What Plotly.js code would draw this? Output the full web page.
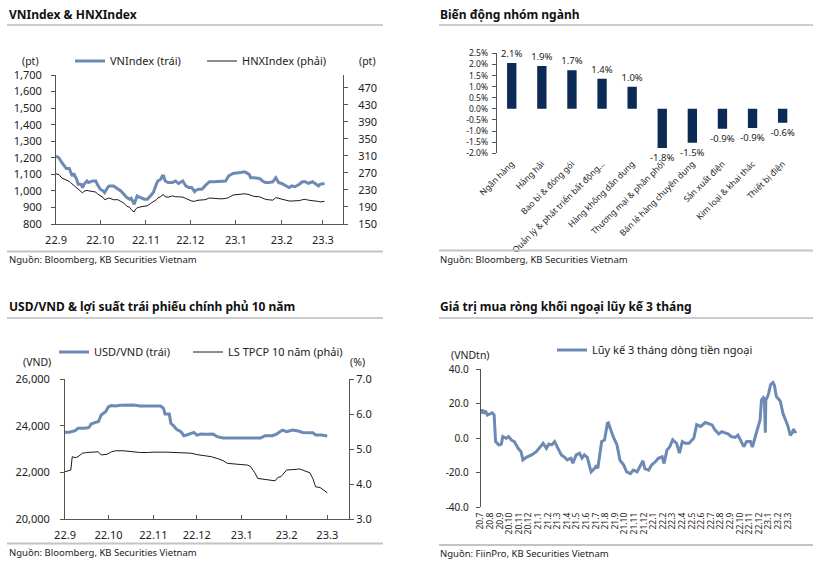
<!DOCTYPE html>
<html><head><meta charset="utf-8">
<script src="https://cdn.plot.ly/plotly-3.0.1.min.js"></script>
<style>html,body{margin:0;padding:0;background:#fff;}#chart{width:815px;height:562px;}</style>
</head><body><div id="chart"></div>
<script>
// ---------- Panel 1: VNIndex & HNXIndex ----------
const idxDates = ['2022-09-01','2022-09-03','2022-09-05','2022-09-08','2022-09-10','2022-09-11','2022-09-12','2022-09-13','2022-09-15','2022-09-16','2022-09-18','2022-09-19','2022-09-20','2022-09-22','2022-09-23','2022-09-26','2022-09-28','2022-09-29','2022-10-01','2022-10-03','2022-10-04','2022-10-06','2022-10-07','2022-10-10','2022-10-13','2022-10-15','2022-10-17','2022-10-19','2022-10-21','2022-10-22','2022-10-24','2022-10-25','2022-10-26','2022-10-28','2022-10-31','2022-11-02','2022-11-04','2022-11-06','2022-11-08','2022-11-09','2022-11-11','2022-11-12','2022-11-13','2022-11-14','2022-11-16','2022-11-19','2022-11-21','2022-11-23','2022-11-26','2022-11-28','2022-11-30','2022-12-02','2022-12-04','2022-12-05','2022-12-07','2022-12-09','2022-12-11','2022-12-14','2022-12-17','2022-12-22','2022-12-25','2022-12-27','2022-12-30','2023-01-03','2023-01-07','2023-01-10','2023-01-11','2023-01-13','2023-01-17','2023-01-19','2023-01-21','2023-01-23','2023-01-26','2023-01-28','2023-01-30','2023-02-01','2023-02-04','2023-02-06','2023-02-08','2023-02-10','2023-02-13','2023-02-15','2023-02-17','2023-02-19','2023-02-22','2023-02-24','2023-02-26','2023-02-27','2023-03-02'];
const vnIndex = [1210,1200,1170,1135,1135,1110,1090,1105,1070,1040,1040,1020,1040,1060,1050,1060,1060,1040,1010,1000,990,1020,1030,1030,1010,1000,980,960,950,955,920,950,970,960,950,950,970,990,1040,1060,1070,1090,1090,1060,1050,1050,1060,1045,1060,1030,1020,1020,995,1005,1010,1010,1030,1055,1055,1060,1060,1090,1105,1110,1115,1100,1080,1080,1075,1060,1050,1050,1055,1080,1050,1045,1030,1020,1030,1025,1040,1055,1055,1045,1055,1040,1030,1040,1045];
const hnxIndex = [268,266,258,254,250,247,244,240,235,232,226,223,227,229,228,227,225,221,216,212,207,210,211,207,207,203,199,192,189,184,178,185,188,190,192,193,198,202,207,211,214,218,219,214,213,216,214,214,213,210,207,204,203,205,206,207,207,211,210,209,210,212,218,219,221,219,217,215,214,211,208,207,206,212,210,208,206,204,204,204,205,207,208,206,205,205,203,202,203];
const monthTickDates = ['2022-09-01','2022-10-01','2022-11-01','2022-12-01','2023-01-01','2023-02-01','2023-03-01'];
const monthTickText = ['22.9','22.10','22.11','22.12','23.1','23.2','23.3'];

// ---------- Panel 2: Biến động nhóm ngành ----------
const sectors = ['Ngân hàng','Hàng hải','Bao bì & đóng gói','Quản lý & phát triển bất động...','Hàng không dân dụng','Thương mại & phân phối','Bán lẻ hàng chuyên dụng','Sản xuất điện','Kim loại & khai thác','Thiết bị điện'];
const sectorChange = [2.06,1.93,1.74,1.36,1.0,-1.76,-1.53,-0.89,-0.86,-0.62];
const sectorTicks = [-2.0,-1.5,-1.0,-0.5,0.0,0.5,1.0,1.5,2.0,2.5];

// ---------- Panel 3: USD/VND & 10Y yield ----------
const usdDates = ['2022-09-01','2022-09-04','2022-09-08','2022-09-10','2022-09-14','2022-09-17','2022-09-18','2022-09-19','2022-09-22','2022-09-24','2022-09-25','2022-09-26','2022-09-29','2022-10-01','2022-10-03','2022-10-06','2022-10-09','2022-10-14','2022-10-18','2022-10-23','2022-10-28','2022-11-01','2022-11-06','2022-11-08','2022-11-09','2022-11-12','2022-11-13','2022-11-15','2022-11-17','2022-11-20','2022-11-22','2022-11-24','2022-11-27','2022-11-29','2022-12-01','2022-12-04','2022-12-08','2022-12-12','2022-12-15','2022-12-19','2022-12-27','2023-01-05','2023-01-14','2023-01-17','2023-01-19','2023-01-22','2023-01-25','2023-01-27','2023-01-29','2023-02-01','2023-02-03','2023-02-05','2023-02-09','2023-02-12','2023-02-16','2023-02-19','2023-02-21','2023-02-25','2023-03-01'];
const usdVnd = [23720,23720,23790,23890,23890,23910,23960,24070,24140,24170,24310,24460,24600,24810,24860,24840,24870,24890,24890,24840,24840,24870,24840,24740,24500,24500,24100,23990,23840,23740,23570,23600,23670,23710,23600,23640,23630,23640,23530,23470,23470,23470,23470,23570,23570,23570,23640,23740,23810,23740,23790,23810,23770,23710,23700,23700,23600,23600,23560];
const yieldDates = ['2022-09-01','2022-09-03','2022-09-05','2022-09-06','2022-09-08','2022-09-10','2022-09-13','2022-09-16','2022-09-21','2022-09-24','2022-09-26','2022-09-30','2022-10-03','2022-10-06','2022-10-11','2022-10-18','2022-10-23','2022-10-28','2022-11-01','2022-11-10','2022-11-20','2022-11-27','2022-12-01','2022-12-06','2022-12-11','2022-12-15','2022-12-19','2022-12-22','2022-12-27','2022-12-31','2023-01-05','2023-01-07','2023-01-10','2023-01-12','2023-01-17','2023-01-21','2023-01-24','2023-01-26','2023-01-28','2023-02-01','2023-02-04','2023-02-08','2023-02-10','2023-02-13','2023-02-17','2023-02-19','2023-02-21','2023-02-24','2023-02-26','2023-03-01'];
const bondYield = [4.35,4.38,4.40,4.78,4.75,4.78,4.88,4.90,4.92,4.92,4.83,4.85,4.92,4.95,4.95,4.91,4.90,4.90,4.91,4.91,4.90,4.88,4.84,4.81,4.78,4.73,4.67,4.59,4.57,4.56,4.54,4.50,4.32,4.16,4.13,4.11,4.09,4.19,4.21,4.40,4.40,4.42,4.43,4.38,4.32,4.16,3.92,3.90,3.83,3.75];

// ---------- Panel 4: foreign net buying, 3M cumulative ----------
const flowMonth = [0,0.15,0.35,0.5,0.7,0.95,1.2,1.4,1.48,1.55,1.9,2.15,2.3,2.65,2.9,3.2,3.5,3.9,4.2,4.4,4.75,5.3,5.8,6.2,6.5,6.85,7.1,7.4,7.7,8.05,8.4,8.75,9.0,9.4,9.6,9.95,10.3,10.55,10.8,11.1,11.35,11.5,11.8,12.0,12.2,12.4,12.6,12.9,13.05,13.2,13.3,13.5,13.8,14.2,14.5,14.9,15.2,15.6,15.9,16.3,16.6,16.9,17.1,17.5,17.8,18.2,18.5,18.9,19.1,19.4,19.7,20.0,20.4,20.7,21.0,21.3,21.7,22.0,22.2,22.5,22.9,23.4,23.7,24.1,24.4,24.8,25.1,25.5,25.8,26.1,26.5,26.8,27.2,27.4,27.7,28.1,28.3,28.5,28.8,29.1,29.25,29.45,29.55,29.6,29.65,29.7,29.85,30.0,30.2,30.45,30.6,30.8,31.2,31.5,31.75,32.0,32.25,32.45,32.6,32.75,32.85];
const flowValue = [14.2,16.5,14.2,15.8,13.3,14.2,14.6,13.3,5,-2.1,-4.0,-3.5,0.8,-0.2,0.8,-1.2,-2.1,-6.0,-7.9,-12.7,-11.2,-9.8,-7.9,-5.0,-3.1,-6.0,-3.5,-4.0,-2.1,-6.0,-9.8,-11.2,-12.7,-11.7,-14.6,-9.8,-8.8,-11.7,-9.8,-11.2,-15.6,-19.6,-18.0,-16.5,-17.5,-9,-2,-1.2,3,8.5,8.8,5,0.8,-4.0,-12.8,-15.7,-19.6,-20.6,-18.6,-19.6,-16.7,-13.2,-17.7,-18.6,-15.7,-13.8,-11.8,-10.9,-14.8,-7,-5,-1,-3.1,-8.8,-2.1,-3.1,-3.1,-1.2,0,7.7,6.7,9,8.5,7.6,4.7,2.3,3.7,2.7,2.3,0.8,0.4,1.7,-3.5,-5,-2.1,-2.1,-5.2,-1,5.6,10.5,22,23.5,23,3,3,22,23.5,26,31,32.2,30.5,24,21.5,14,10,7,1.5,3,5.2,3.2,4];
const flowTickText = ['20.7','20.8','20.9','20.10','20.11','20.12','21.1','21.2','21.3','21.4','21.5','21.6','21.7','21.8','21.9','21.10','21.11','21.12','22.1','22.2','22.3','22.4','22.5','22.6','22.7','22.8','22.9','22.10','22.11','22.12','23.1','23.2','23.3'];
const flowYTicks = [-40,-20,0,20,40];

// ---------- styling ----------
const FONT = 'Noto Sans, DejaVu Sans, sans-serif';
const BLUE = '#6C8AB4';
const NAVY = '#0B2A55';
const AX = '#555555';
const W = 815, H = 562;
const px = v => v / W;
const py = v => 1 - v / H;

const flowTickVals = flowTickText.map((t, i) => i);

const traces = [
  {type:'scatter', mode:'lines', x: idxDates, y: vnIndex, name:'VNIndex (trái)', xaxis:'x', yaxis:'y', line:{color:BLUE, width:3}, legend:'legend'},
  {type:'scatter', mode:'lines', x: idxDates, y: hnxIndex, name:'HNXIndex (phải)', xaxis:'x', yaxis:'y2', line:{color:'#1a1a1a', width:1}, legend:'legend4'},
  {type:'bar', x: sectors, y: sectorChange, xaxis:'x2', yaxis:'y3', marker:{color:NAVY}, width:0.31, showlegend:false,
   texttemplate:'%{y:.1f}%', textposition:'outside', constraintext:'none', cliponaxis:false, textfont:{size:9.5, color:'#222'}},
  {type:'scatter', mode:'lines', x: usdDates, y: usdVnd, name:'USD/VND (trái)', xaxis:'x4', yaxis:'y4', line:{color:BLUE, width:3}, legend:'legend2'},
  {type:'scatter', mode:'lines', x: yieldDates, y: bondYield, name:'LS TPCP 10 năm (phải)', xaxis:'x4', yaxis:'y5', line:{color:'#1a1a1a', width:1}, legend:'legend5'},
  {type:'scatter', mode:'lines', x: flowMonth, y: flowValue, name:'Lũy kế 3 tháng dòng tiền ngoại', xaxis:'x5', yaxis:'y6', line:{color:BLUE, width:3}, legend:'legend3'}
];

const tf = {size:11, color:'#222'};
const baseAx = {showgrid:false, zeroline:false, showline:true, linecolor:AX, linewidth:1, tickcolor:AX, fixedrange:true};
function leg(x, y) {
  return {orientation:'h', x: px(x), xanchor:'left', y: py(y), yanchor:'middle', font:{size:11, color:'#222'}, bgcolor:'rgba(0,0,0,0)', itemwidth:30};
}

const layout = {
  width: W, height: H,
  margin: {l:0, r:0, t:0, b:0},
  paper_bgcolor:'#ffffff', plot_bgcolor:'rgba(0,0,0,0)',
  font: {family: FONT, size: 11, color:'#222'},
  showlegend: true,
  // Panel 1
  xaxis: Object.assign({}, baseAx, {domain:[px(56), px(343)], anchor:'y', type:'date', range:['2022-09-01','2023-03-14 14:00'],
    tickvals: monthTickDates, ticktext: monthTickText, ticks:'inside', ticklen:4, ticklabelstandoff:6, tickfont:tf}),
  yaxis: Object.assign({}, baseAx, {domain:[py(224), py(75)], anchor:'x', range:[800,1700], dtick:100, tickformat:',', ticks:'outside', ticklen:4, ticklabelstandoff:7, tickfont:tf}),
  yaxis2: Object.assign({}, baseAx, {overlaying:'y', side:'right', anchor:'x', range:[150,500], tick0:150, dtick:40, ticks:'outside', ticklen:4, ticklabelstandoff:8, tickfont:tf}),
  // Panel 2
  xaxis2: {domain:[px(496.7), px(797.7)], anchor:'y3', type:'category', range:[-0.5, 9.5], showline:false, showgrid:false, zeroline:false,
    ticks:'', tickangle:-45, ticklabelstandoff:3, tickfont:{size:8.5, color:'#222'}, fixedrange:true},
  xaxis3: Object.assign({}, baseAx, {overlaying:'x2', anchor:'free', position: py(109), side:'top', type:'linear', range:[-0.5, 9.5],
    tickvals:[0.5,1.5,2.5,3.5,4.5,5.5,6.5,7.5,8.5,9.5], ticks:'outside', ticklen:4, showticklabels:false, linecolor:'#222', tickcolor:'#222'}),
  yaxis3: Object.assign({}, baseAx, {domain:[py(153.3), py(53.3)], anchor:'x2', range:[-2.0, 2.5], tickvals: sectorTicks,
    ticktext: sectorTicks.map(v => v.toFixed(1) + '%'), ticks:'outside', ticklen:4, ticklabelstandoff:2, tickfont:{size:8.5, color:'#222'}}),
  // Panel 3
  xaxis4: Object.assign({}, baseAx, {domain:[px(65), px(349)], anchor:'y4', type:'date', range:['2022-09-01','2023-03-16'],
    tickvals: monthTickDates, ticktext: monthTickText, ticks:'inside', ticklen:4, ticklabelstandoff:6, tickfont:tf}),
  yaxis4: Object.assign({}, baseAx, {domain:[py(519), py(379)], anchor:'x4', range:[20000,26000], dtick:2000, tickformat:',', ticks:'outside', ticklen:4, ticklabelstandoff:8, tickfont:tf}),
  yaxis5: Object.assign({}, baseAx, {overlaying:'y4', side:'right', anchor:'x4', range:[3,7], dtick:1, tickformat:'.1f', ticks:'outside', ticklen:4, tickfont:tf}),
  // Panel 4
  xaxis5: {domain:[px(480.7), px(797.5)], anchor:'y6', type:'linear', range:[0, 33], showline:false, showgrid:false, zeroline:false,
    tickvals: flowTickVals, ticktext: flowTickText, ticks:'', tickangle:-90, ticklabelstandoff:3, tickfont:{size:8.5, color:'#222'}, fixedrange:true},
  xaxis6: Object.assign({}, baseAx, {overlaying:'x5', anchor:'free', position: py(438), side:'top', type:'linear', range:[0, 33],
    tickvals: flowTickVals.map(v => v + 1), ticks:'outside', ticklen:4, showticklabels:false, linecolor:'#222', tickcolor:'#222'}),
  yaxis6: Object.assign({}, baseAx, {domain:[py(507), py(369)], anchor:'x5', range:[-40, 40], tickvals: flowYTicks,
    ticktext: flowYTicks.map(v => v.toFixed(1)), ticks:'outside', ticklen:4, ticklabelstandoff:5, tickfont:{size:10, color:'#222'}}),
  legend: leg(70, 61),
  legend4: leg(202, 61),
  legend2: leg(54, 352),
  legend5: leg(188, 352),
  legend3: leg(552, 350),
  annotations: [],
  shapes: []
};

function note(text, x, y, opts) {
  layout.annotations.push(Object.assign({text, x: px(x), y: py(y), xref:'paper', yref:'paper', showarrow:false,
    xanchor:'left', yanchor:'middle', font:{size:10, color:'#222'}}, opts || {}));
}
function hline(x0, x1, y, color, width) {
  layout.shapes.push({type:'line', xref:'paper', yref:'paper', x0: px(x0), x1: px(x1), y0: py(y), y1: py(y), line:{color, width}});
}
// titles
note('<b>VNIndex & HNXIndex</b>', 7, 14, {font:{size:12, color:'#111'}});
note('<b>Biến động nhóm ngành</b>', 438, 14, {font:{size:12, color:'#111'}});
note('<b>USD/VND & lợi suất trái phiếu chính phủ 10 năm</b>', 7, 306, {font:{size:12, color:'#111'}});
note('<b>Giá trị mua ròng khối ngoại lũy kế 3 tháng</b>', 438, 306, {font:{size:12, color:'#111'}});
// sources
note('Nguồn: Bloomberg, KB Securities Vietnam', 7, 259, {font:{size:9.5, color:'#222'}});
note('Nguồn: Bloomberg, KB Securities Vietnam', 438, 259, {font:{size:9.5, color:'#222'}});
note('Nguồn: Bloomberg, KB Securities Vietnam', 7, 552, {font:{size:9.5, color:'#222'}});
note('Nguồn: FiinPro, KB Securities Vietnam', 438, 553, {font:{size:9.5, color:'#222'}});
// units
note('(pt)', 30, 61, {xanchor:'center', font:{size:10.5, color:'#222'}});
note('(pt)', 367, 61, {xanchor:'center', font:{size:10.5, color:'#222'}});
note('(VND)', 37, 362, {xanchor:'center', font:{size:10.5, color:'#222'}});
note('(%)', 357, 362, {xanchor:'center', font:{size:10.5, color:'#222'}});
note('(VNDtn)', 470, 355, {xanchor:'center', font:{size:10.5, color:'#222'}});
// header / footer rules
hline(7, 383, 25, '#9a9a9a', 1);
hline(439, 813, 25, '#9a9a9a', 1);
hline(7, 383, 318, '#9a9a9a', 1);
hline(439, 813, 318, '#9a9a9a', 1);
hline(7, 383, 251.5, '#c4c4c4', 2);
hline(439, 813, 250.5, '#c4c4c4', 2);
hline(7, 383, 543.5, '#c4c4c4', 2);
hline(439, 813, 545, '#c4c4c4', 2);

Plotly.newPlot('chart', traces, layout, {staticPlot:true, displayModeBar:false});
</script>
</body></html>
